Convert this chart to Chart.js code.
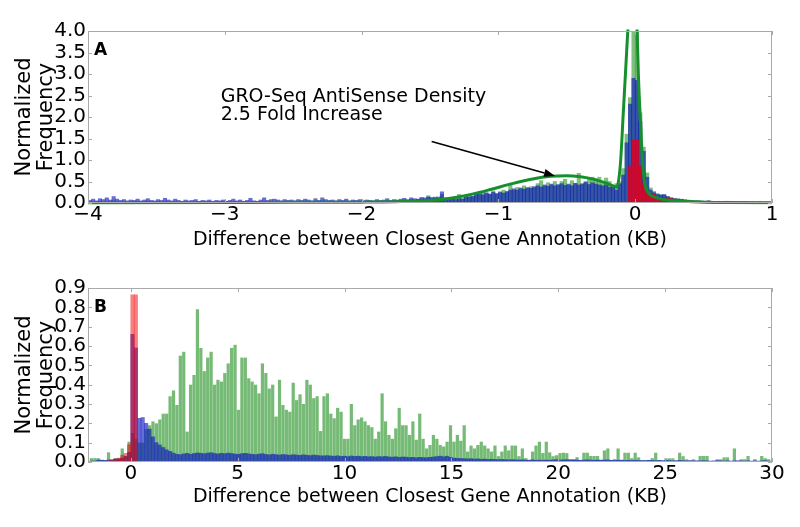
<!DOCTYPE html>
<html><head><meta charset="utf-8">
<script src="https://cdn.jsdelivr.net/npm/chart.js@4.4.0/dist/chart.umd.min.js"></script>
<style>html,body{margin:0;padding:0;background:#fff;}canvas{display:block;}</style>
</head><body>
<canvas id="cA" width="800" height="262"></canvas>
<canvas id="cB" width="800" height="265"></canvas>
<script>
// ---------- Panel A: bins of 0.025 KB from -4 to 1 ----------
const binStartA = -4, binWidthA = 0.025;
const xTicksA = [-4, -3, -2, -1, 0, 1];
const yTicksA = [0.0, 0.5, 1.0, 1.5, 2.0, 2.5, 3.0, 3.5, 4.0];
const blueA = [
0.06,0.09,0.05,0.1,0.08,0.12,0.07,0.15,0.09,0.06,
0.08,0.05,0.07,0.06,0.09,0.05,0.07,0.1,0.06,0.05,
0.08,0.06,0.11,0.07,0.05,0.09,0.06,0.04,0.07,0.05,
0.06,0.08,0.04,0.06,0.05,0.07,0.03,0.06,0.05,0.07,
0.04,0.06,0.09,0.05,0.07,0.04,0.06,0.11,0.05,0.04,
0.07,0.12,0.06,0.08,0.09,0.07,0.05,0.08,0.06,0.07,
0.05,0.08,0.06,0.09,0.07,0.05,0.1,0.06,0.12,0.08,
0.06,0.07,0.05,0.08,0.06,0.09,0.05,0.07,0.06,0.08,
0.05,0.07,0.06,0.05,0.08,0.06,0.07,0.1,0.06,0.08,
0.07,0.09,0.11,0.08,0.12,0.1,0.09,0.13,0.12,0.14,
0.13,0.12,0.14,0.26,0.09,0.08,0.1,0.08,0.1,0.09,
0.15,0.14,0.16,0.2,0.22,0.19,0.24,0.21,0.25,0.22,
0.26,0.23,0.27,0.3,0.33,0.3,0.35,0.32,0.36,0.34,
0.38,0.4,0.37,0.42,0.39,0.44,0.4,0.43,0.45,0.41,
0.44,0.4,0.46,0.42,0.45,0.48,0.43,0.47,0.44,0.42,
0.4,0.42,0.37,0.38,0.3,0.45,0.65,1.4,2.3,2.9,
2.85,1.9,1.2,0.6,0.3,0.24,0.2,0.18,0.2,0.15,
0.12,0.1,0.09,0.08,0.07,0.06,0.05,0.04,0.05,0.03,
0.04,0.05,0.03,0.02,0.03,0.02,0.04,0.02,0.03,0.02,
0.01,0.02,0.03,0.01,0.02,0.01,0.03,0.01,0.02,0.01];
const greenA = [
0.03,0.02,0.03,0.04,0.03,0.02,0.03,0.05,0.03,0.02,
0.03,0.02,0.02,0.03,0.04,0.02,0.03,0.03,0.02,0.02,
0.03,0.02,0.04,0.03,0.02,0.03,0.02,0.02,0.03,0.02,
0.02,0.03,0.02,0.02,0.02,0.03,0.02,0.02,0.02,0.03,
0.02,0.02,0.03,0.02,0.03,0.02,0.02,0.04,0.02,0.02,
0.03,0.04,0.02,0.03,0.03,0.03,0.02,0.03,0.02,0.03,
0.02,0.03,0.03,0.04,0.03,0.02,0.04,0.03,0.05,0.03,
0.03,0.03,0.02,0.04,0.03,0.04,0.03,0.03,0.03,0.04,
0.03,0.04,0.03,0.03,0.04,0.03,0.04,0.05,0.04,0.05,
0.05,0.06,0.07,0.06,0.08,0.07,0.08,0.1,0.09,0.17,
0.1,0.14,0.11,0.2,0.12,0.1,0.13,0.11,0.2,0.12,
0.14,0.2,0.15,0.22,0.2,0.25,0.22,0.2,0.28,0.21,
0.24,0.3,0.25,0.45,0.3,0.36,0.33,0.4,0.34,0.38,
0.36,0.45,0.52,0.4,0.47,0.42,0.5,0.41,0.5,0.55,
0.42,0.52,0.45,0.69,0.43,0.5,0.58,0.6,0.56,0.6,
0.45,0.58,0.5,0.36,0.45,0.5,0.8,1.6,2.45,4.3,
4.3,2.1,1.3,0.7,0.35,0.27,0.22,0.2,0.18,0.15,
0.12,0.11,0.1,0.09,0.08,0.07,0.06,0.06,0.05,0.05,
0.04,0.05,0.04,0.03,0.04,0.03,0.03,0.04,0.03,0.02,
0.02,0.03,0.02,0.02,0.03,0.02,0.01,0.02,0.02,0.01];
const redFirstBinA = 150;
const redA = [
0.005,0.005,0.005,0.005,0.005,0.01,0.01,0.02,
0.85,1.47,1.47,0.85,0.45,0.26,0.22,0.2,0.13,0.12,0.12,0.11,
0.1,0.08,0.07,0.07,0.06,0.05,0.04,0.04,0.04,0.04,
0.04,0.03,0.03,0.03,0.03,0.03,0.03,0.03,0.03,0.03,
0.02,0.02,0.02,0.02,0.02,0.02,0.02,0.02,0.02,0.02];
// density curve (KB, value)
const curveX = [-4.0,-3.5,-3.0,-2.5,-2.0,-1.75,-1.5,-1.35,-1.2,-1.05,-0.9,-0.75,-0.62,-0.5,-0.4,-0.3,-0.22,-0.16,-0.135,-0.12,-0.106,-0.087,-0.068,-0.05,-0.03,-0.014,0.0,0.012,0.023,0.04,0.055,0.072,0.09,0.11,0.16,0.23,0.35,0.5,0.7,1.0];
const curveY = [0.0,0.005,0.01,0.015,0.02,0.03,0.06,0.11,0.2,0.32,0.45,0.56,0.62,0.635,0.61,0.55,0.47,0.4,0.37,0.55,1.0,2.1,3.2,4.2,4.9,5.1,4.9,4.2,3.0,1.8,0.9,0.42,0.27,0.19,0.12,0.07,0.04,0.02,0.01,0.005];

// ---------- Panel B: bins of 0.16 KB from -1.92 to 30.08 ----------
const binStartB = -1.92, binWidthB = 0.16;
const xTicksB = [0, 5, 10, 15, 20, 25, 30];
const yTicksB = [0.0, 0.1, 0.2, 0.3, 0.4, 0.5, 0.6, 0.7, 0.8, 0.9];
const greenB = [
0.02,0.02,0.02,0.01,0.01,0.05,0.01,0.02,0.02,0.07,0.03,0.105,
0.15,0.12,0.10,0.10,0.17,0.19,0.21,0.20,0.22,0.25,
0.25,0.34,0.37,0.295,0.55,0.57,0.157,0.40,0.45,0.79,
0.59,0.47,0.54,0.57,0.40,0.425,0.416,0.46,0.51,0.59,
0.606,0.27,0.54,0.54,0.433,0.416,0.40,0.355,0.51,0.46,
0.38,0.40,0.235,0.425,0.295,0.27,0.26,0.41,0.32,0.35,
0.30,0.425,0.40,0.33,0.34,0.16,0.34,0.355,0.25,0.226,
0.28,0.26,0.12,0.12,0.30,0.19,0.22,0.23,0.21,0.19,
0.18,0.12,0.157,0.355,0.21,0.14,0.12,0.174,0.28,0.19,
0.19,0.14,0.21,0.115,0.25,0.12,0.07,0.088,0.14,0.12,
0.088,0.08,0.105,0.19,0.105,0.14,0.11,0.19,0.054,0.085,
0.07,0.088,0.105,0.085,0.07,0.054,0.085,0.03,0.054,0.085,
0.06,0.085,0.085,0.03,0.07,0.02,0.01,0.054,0.085,0.105,
0.046,0.105,0.05,0.03,0.035,0.046,0.048,0.046,0.015,0.014,
0.025,0.01,0.048,0.048,0.031,0.031,0.031,0.012,0.06,0.07,
0.01,0.015,0.07,0.01,0.048,0.048,0.02,0.048,0.024,0.01,
0.008,0.01,0.02,0.048,0.01,0.008,0.019,0.019,0.019,0.008,
0.048,0.03,0.014,0.008,0.014,0.005,0.031,0.031,0.031,0.005,
0.004,0.014,0.014,0.024,0.024,0.005,0.07,0.005,0.014,0.014,
0.031,0.005,0.014,0.005,0.031,0.02,0.014,0.005];
const blueB = [
0.005,0.005,0.01,0.01,0.008,0.01,0.012,0.015,0.015,0.02,0.03,0.05,
0.66,0.59,0.226,0.23,0.2,0.17,0.13,0.1,0.088,0.075,
0.063,0.055,0.046,0.04,0.038,0.042,0.045,0.04,0.044,0.047,
0.045,0.043,0.046,0.048,0.044,0.042,0.045,0.043,0.046,0.044,
0.041,0.04,0.043,0.045,0.042,0.04,0.038,0.041,0.043,0.039,
0.037,0.04,0.038,0.036,0.039,0.037,0.035,0.038,0.036,0.034,
0.037,0.035,0.033,0.036,0.034,0.032,
0.032,0.033,0.031,0.030,0.032,0.029,0.030,0.028,0.031,0.029,
0.030,0.028,0.029,0.027,0.028,0.026,0.028,0.027,0.029,0.026,
0.025,0.027,0.024,0.026,0.025,0.023,0.024,0.022,0.024,0.023,
0.022,0.024,0.026,0.028,0.030,0.027,0.030,0.024,0.020,0.019,
0.018,0.017,0.016,0.017,0.015,0.016,0.014,0.015,0.013,0.014,
0.013,0.012,0.013,0.012,0.011,0.012,0.011,0.010,0.011,0.010,
0.010,0.011,0.009,0.010,0.009,0.010,0.009,
0.011,0.012,0.010,0.011,0.012,0.010,0.011,0.010,0.009,0.010,
0.011,0.010,0.009,0.010,0.009,0.010,0.011,0.009,0.008,0.009,
0.010,0.008,0.009,0.008,0.009,0.008,0.007,0.008,0.009,0.008,
0.007,0.008,0.007,0.008,0.007,0.006,0.007,0.008,0.007,0.006,
0.007,0.006,0.007,0.006,0.007,0.006,0.005,0.006,0.007,0.006,
0.005,0.006,0.005,0.006,0.007,0.006,0.005,0.006,0.005,0.006,
0.005,0.006,0.007,0.005,0.004];
const redB = [0,0,0,0,0,0.005,0.01,0.015,0.02,0.035,0.045,0.09,0.865,0.865];

// ---------- helpers ----------
const center = (start, w, i) => Math.round((start + w * (i + 0.5)) * 1e6) / 1e6;
const toPts = (start, w, vals, first = 0) => vals.map((v, k) => ({x: center(start, w, first + k), y: v}));
const fmtNum = v => (v < 0 ? '\u2212' + Math.abs(v) : String(v));

Chart.defaults.font.family = '"DejaVu Sans", sans-serif';
Chart.defaults.color = '#000';

const framePlugin = {
  id: 'frame',
  afterDatasetsDraw(chart) {
    const {ctx, chartArea: a, scales: {x, y}} = chart;
    ctx.save();
    ctx.strokeStyle = '#aaaaaa';
    ctx.lineWidth = 1;
    ctx.strokeRect(Math.round(a.left) + 0.5, Math.round(a.top) + 0.5, Math.round(a.width) - 1, Math.round(a.height) - 1);
    ctx.beginPath();
    x.ticks.forEach(t => {
      const px = Math.round(x.getPixelForValue(t.value)) + 0.5;
      ctx.moveTo(px, a.top); ctx.lineTo(px, a.top + 4);
      ctx.moveTo(px, a.bottom); ctx.lineTo(px, a.bottom - 4);
    });
    y.ticks.forEach(t => {
      const py = Math.round(y.getPixelForValue(t.value)) + 0.5;
      ctx.moveTo(a.left, py); ctx.lineTo(a.left + 4, py);
      ctx.moveTo(a.right, py); ctx.lineTo(a.right - 4, py);
    });
    ctx.stroke();
    ctx.restore();
  }
};

function letterPlugin(letter, dy) {
  return {
    id: 'letter' + letter,
    afterDraw(chart) {
      const {ctx, chartArea: a} = chart;
      ctx.save();
      ctx.font = 'bold 17px "DejaVu Sans"';
      ctx.fillStyle = '#000';
      ctx.textAlign = 'left';
      ctx.textBaseline = 'middle';
      ctx.fillText(letter, a.left + 6, a.top + dy);
      ctx.restore();
    }
  };
}

const noteA = {
  id: 'noteA',
  afterDraw(chart) {
    const {ctx, scales: {x, y}} = chart;
    ctx.save();
    ctx.font = '19px "DejaVu Sans"';
    ctx.fillStyle = '#000';
    ctx.textAlign = 'left';
    ctx.textBaseline = 'middle';
    ctx.fillText('GRO-Seq AntiSense Density', x.getPixelForValue(-3.03), y.getPixelForValue(2.465));
    ctx.fillText('2.5 Fold Increase', x.getPixelForValue(-3.03), y.getPixelForValue(2.05));
    const x0 = x.getPixelForValue(-1.488), y0 = y.getPixelForValue(1.43);
    const x1 = x.getPixelForValue(-0.586), y1 = y.getPixelForValue(0.63);
    const ang = Math.atan2(y1 - y0, x1 - x0);
    const L = 11, W = 4;
    const bx = x1 - L * Math.cos(ang), by = y1 - L * Math.sin(ang);
    ctx.strokeStyle = '#000';
    ctx.lineWidth = 1.6;
    ctx.beginPath(); ctx.moveTo(x0, y0); ctx.lineTo(bx, by); ctx.stroke();
    ctx.beginPath();
    ctx.moveTo(x1, y1);
    ctx.lineTo(bx + W * Math.sin(ang), by - W * Math.cos(ang));
    ctx.lineTo(bx - W * Math.sin(ang), by + W * Math.cos(ang));
    ctx.closePath(); ctx.fill();
    ctx.restore();
  }
};

function axes(cfg) {
  return {
    x: {
      type: 'linear', min: cfg.xmin, max: cfg.xmax, offset: false, bounds: 'ticks',
      grid: {display: false, drawTicks: false, offset: false}, border: {display: false},
      afterBuildTicks: s => { s.ticks = cfg.xticks.map(v => ({value: v})); },
      ticks: {autoSkip: false, maxRotation: 0, padding: 0, font: {size: 20}, color: '#000', callback: v => fmtNum(v)},
      title: {display: true, text: 'Difference between Closest Gene Annotation (KB)', color: '#000',
              font: {size: 19, lineHeight: 1.1}, padding: {top: 0, bottom: cfg.titlePad}},
      afterFit: s => { s.height = cfg.xh; }
    },
    y: {
      type: 'linear', min: cfg.ymin, max: cfg.ymax,
      grid: {display: false, drawTicks: false}, border: {display: false},
      afterBuildTicks: s => { s.ticks = cfg.yticks.map(v => ({value: v})); },
      ticks: {autoSkip: false, padding: 2, font: {size: 20}, color: '#000', callback: v => v.toFixed(1)},
      title: {display: true, text: ['Normalized', 'Frequency'], color: '#000',
              font: {size: 21, lineHeight: 22 / 21}, padding: {top: 14, bottom: 0}},
      afterFit: s => { s.width = 88; }
    }
  };
}

const common = {
  responsive: false, animation: false, devicePixelRatio: 1, events: [],
  plugins: {legend: {display: false}, tooltip: {enabled: false}},
};

new Chart(document.getElementById('cA'), {
  type: 'bar',
  data: {
    datasets: [
      {type: 'line', data: curveX.map((v, i) => ({x: v, y: curveY[i]})), borderColor: '#16902c', borderWidth: 3,
       pointRadius: 0, cubicInterpolationMode: 'monotone', order: 0, clip: 1.5},
      {data: toPts(binStartA, binWidthA, redA, redFirstBinA), backgroundColor: 'rgba(225,0,30,0.85)', order: 1,
       barPercentage: 1, categoryPercentage: 1, grouped: false, borderWidth: 0, clip: 0},
      {data: toPts(binStartA, binWidthA, blueA), backgroundColor: 'rgba(10,20,190,0.62)', order: 2,
       barPercentage: 1, categoryPercentage: 1, grouped: false, borderWidth: 0, clip: 0},
      {data: toPts(binStartA, binWidthA, greenA), backgroundColor: 'rgba(0,128,0,0.5)', order: 3,
       barPercentage: 1, categoryPercentage: 1, grouped: false, borderWidth: 0, clip: 0}
    ]
  },
  options: Object.assign({}, common, {
    layout: {padding: {top: 31, right: 28, bottom: 0, left: 0}},
    scales: axes({xmin: -4, xmax: 1, ymin: 0, ymax: 4, xticks: xTicksA, yticks: yTicksA, xh: 59, titlePad: 11})
  }),
  plugins: [framePlugin, letterPlugin('A', 20), noteA]
});

new Chart(document.getElementById('cB'), {
  type: 'bar',
  data: {
    datasets: [
      {data: toPts(binStartB, binWidthB, redB), backgroundColor: 'rgba(240,0,0,0.5)', order: 1,
       barPercentage: 1, categoryPercentage: 1, grouped: false, borderWidth: 0, clip: 0},
      {data: toPts(binStartB, binWidthB, blueB), backgroundColor: 'rgba(10,20,190,0.62)', order: 2,
       barPercentage: 1, categoryPercentage: 1, grouped: false, borderWidth: 0, clip: 0},
      {data: toPts(binStartB, binWidthB, greenB), backgroundColor: 'rgba(0,128,0,0.54)', order: 3,
       barPercentage: 0.94, categoryPercentage: 1, grouped: false, borderWidth: 0, clip: 0}
    ]
  },
  options: Object.assign({}, common, {
    layout: {padding: {top: 26, right: 28, bottom: 0, left: 0}},
    scales: axes({xmin: -2, xmax: 30, ymin: 0, ymax: 0.9, xticks: xTicksB, yticks: yTicksB, xh: 65, titlePad: 19.5})
  }),
  plugins: [framePlugin, letterPlugin('B', 20)]
});
</script>
</body></html>
